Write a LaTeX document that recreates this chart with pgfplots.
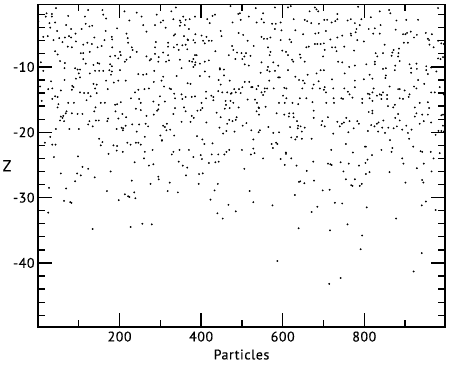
\documentclass[border=0pt]{standalone}
\usepackage{fontspec}
\setmainfont{PT Sans}[LetterSpace=4,FakeBold=0.25]
\usepackage{pgfplots}
\pgfplotsset{compat=1.18}
\begin{document}
\begin{tikzpicture}
\path[use as bounding box] (-38bp,-38bp) rectangle (412bp,327bp);
\begin{axis}[
    scale only axis,
    width=407bp,
    height=322.5bp,
    xmin=0, xmax=998,
    ymin=-49.8, ymax=-0.45,
    xtick={200,400,600,800},
    xticklabels={200,400,600,800},
    ytick={-40,-30,-20,-10},
    yticklabels={-40,-30,-20,-10},
    minor xtick={100,300,500,700,900},
    minor ytick={-48,-46,-44,-42,-38,-36,-34,-32,-28,-26,-24,-22,-18,-16,-14,-12,-8,-6,-4,-2},
    tick align=inside,
    major tick length=14bp,
    minor tick length=7bp,
    every tick/.style={black,line width=1.3bp},
    axis line style={line width=1.6bp},
    tick label style={font=\fontsize{14}{14}\selectfont},
    xticklabel style={yshift=-1bp},
    yticklabel style={xshift=0bp},
    xlabel={Particles},
    ylabel={Z},
    xlabel style={font=\fontsize{14}{14}\selectfont,at={(axis description cs:0.5,0)},anchor=north,yshift=-19bp},
    ylabel style={font=\fontsize{16}{16}\selectfont,at={(axis description cs:0,0.5)},rotate=-90,anchor=center,xshift=-31bp},
]
\addplot[only marks,mark=*,mark size=0.7bp,black] coordinates {
(44,-1.0)(21,-1.8)(34,-1.9)(19,-2.3)(34,-2.3)(74,-2.2)(115,-2.3)(123,-1.3)(158,-1.3)(160,-2.0)(167,-2.6)(212,-1.5)(242,-1.7)(254,-2.3)(258,-3.6)(266,-4.6)
(1,-3.0)(28,-3.3)(42,-3.2)(30,-4.0)(69,-3.6)(81,-4.2)(117,-3.4)(126,-3.8)(133,-3.7)(107,-4.2)(194,-4.1)(224,-2.9)(47,-4.5)(166,-4.5)(92,-4.9)
(13,-5.4)(24,-5.3)(38,-5.9)(52,-5.6)(66,-5.5)(76,-5.3)(81,-5.5)(60,-6.2)(93,-6.1)(138,-5.5)(181,-5.4)(182,-5.8)(217,-4.9)(220,-5.6)(221,-6.3)(163,-5.9)(121,-6.3)(111,-6.6)(132,-6.5)
(73,-6.9)(83,-7.0)(146,-7.0)(156,-6.8)(182,-7.0)(230,-7.0)(42,-7.6)(48,-8.1)(105,-7.9)(111,-7.9)(127,-7.7)(232,-7.4)(242,-7.7)(266,-8.4)(201,-7.7)(177,-8.4)(189,-8.3)(203,-8.2)(226,-8.5)(217,-8.9)(213,-9.2)
(54,-9.1)(66,-9.4)(7,-9.3)(111,-8.8)(117,-9.5)(146,-9.4)(150,-9.5)(136,-9.7)(177,-9.6)(181,-9.9)(197,-8.7)
(65,-10.2)(91,-10.2)(97,-10.4)(103,-10.4)(13,-10.6)(100,-11.0)(127,-11.0)(140,-10.6)(150,-10.6)(160,-10.6)(175,-10.5)(181,-10.7)(201,-10.5)(246,-11.1)(258,-11.2)(266,-11.1)
(93,-11.8)(103,-11.6)(65,-12.0)(167,-12.1)(179,-11.2)(186,-12.4)(197,-12.1)(215,-12.1)(32,-12.2)(136,-12.6)(144,-12.7)(84,-12.9)(87,-13.1)(5,-13.0)(25,-13.4)(35,-13.3)(83,-13.5)(56,-13.6)
(103,-13.9)(113,-14.0)(123,-14.0)(140,-13.3)(144,-14.0)(171,-13.4)(246,-13.5)(238,-13.9)(261,-13.4)(272,-13.3)(42,-14.5)(48,-14.6)(35,-14.9)(9,-15.2)(129,-14.5)(119,-15.1)(228,-14.8)(248,-14.9)(252,-15.5)
(50,-15.7)(48,-16.2)(74,-15.5)(88,-15.5)(154,-15.5)(164,-15.5)(189,-15.8)(194,-15.7)(203,-15.4)(141,-16.2)(138,-16.8)(240,-16.4)(252,-16.6)(70,-16.8)(68,-17.1)(62,-17.5)(56,-17.6)(60,-17.8)(83,-17.1)(97,-17.2)(109,-17.2)(190,-16.8)(207,-17.2)(216,-17.7)(172,-17.9)(197,-17.9)(266,-17.5)
(327,-1.5)(338,-0.9)(291,-2.0)(385,-2.3)(356,-2.3)(332,-2.7)(348,-2.9)(372,-2.7)(362,-2.8)(307,-2.9)(301,-3.2)(287,-3.6)(350,-3.2)(360,-3.6)(348,-3.7)(313,-4.0)(370,-4.2)(415,-2.7)(421,-3.3)(434,-2.0)(428,-2.2)
(472,-0.7)(491,-1.9)(495,-1.8)(497,-2.8)(477,-3.2)(517,-2.3)(552,-1.8)(548,-2.7)(536,-3.2)(554,-3.2)(574,-3.4)(583,-3.4)(595,-3.2)(581,-4.2)(597,-4.4)(627,-2.7)(631,-4.4)(581,-0.9)(613,-0.9)(620,-0.7)(534,-1.0)
(448,-4.5)(450,-5.3)(492,-4.8)(503,-5.1)(386,-5.0)(336,-5.0)(333,-5.2)(358,-5.3)(401,-5.2)(413,-5.4)(368,-5.9)(381,-5.9)(385,-6.3)(367,-5.8)(405,-6.0)(419,-6.0)(426,-6.0)(289,-6.2)(319,-6.3)(341,-6.6)(354,-6.7)(287,-7.0)(319,-6.9)(362,-6.6)(333,-7.0)(345,-7.4)(366,-7.3)(409,-6.4)(435,-7.6)
(476,-6.8)(479,-7.4)(514,-6.0)(529,-6.8)(548,-5.4)(554,-5.7)(562,-5.7)(570,-5.5)(595,-5.9)(617,-5.8)(621,-6.2)(564,-7.0)(599,-7.5)(608,-7.7)(570,-7.7)(568,-8.2)(613,-8.2)(623,-8.9)(626,-9.2)
(307,-7.8)(287,-8.0)(296,-8.5)(319,-8.2)(277,-8.8)(274,-9.0)(295,-9.2)(314,-9.2)(321,-9.0)(385,-8.2)(389,-8.2)(381,-8.8)(348,-8.9)(371,-9.1)(378,-9.2)(386,-9.3)(381,-10.0)(397,-9.5)(409,-9.2)(419,-9.0)(385,-9.7)(446,-10.2)(446,-10.4)
(468,-8.2)(488,-7.8)(499,-7.9)(510,-7.9)(506,-8.4)(484,-8.8)(501,-8.8)(521,-8.3)(507,-9.6)(517,-9.8)(548,-9.3)(577,-9.3)(564,-10.0)(589,-9.8)(562,-10.5)(568,-10.7)(581,-10.6)(613,-10.5)(546,-10.9)
(352,-10.2)(285,-10.6)(409,-10.7)(456,-10.4)(420,-11.5)(397,-11.4)(340,-11.4)(307,-11.5)(303,-12.1)(284,-12.3)(367,-12.5)(374,-12.6)(456,-11.3)(470,-12.1)(443,-12.0)(448,-12.7)(309,-13.0)(323,-13.3)(326,-13.4)
(442,-13.7)(412,-13.8)(452,-13.9)(464,-13.9)(473,-14.1)(481,-13.4)(485,-13.9)(493,-13.4)(497,-14.0)(501,-13.1)(507,-12.3)(518,-12.3)(523,-13.1)(536,-13.4)(540,-12.9)(526,-13.1)(556,-13.3)(562,-13.3)(567,-12.1)(548,-13.9)(556,-13.8)(552,-14.3)
(589,-11.6)(593,-11.6)(631,-11.5)(640,-12.0)(578,-13.3)(604,-13.2)(609,-13.3)(601,-14.4)(609,-14.8)(334,-14.1)(336,-14.8)(352,-14.2)(362,-14.6)(377,-14.6)(354,-14.9)(385,-14.5)(425,-14.4)(430,-14.6)(430,-15.1)(412,-14.8)
(299,-14.5)(311,-15.3)(283,-15.3)(296,-15.8)(295,-16.5)(292,-16.7)(284,-17.3)(336,-16.3)(358,-16.2)(362,-16.8)(403,-16.3)(401,-15.5)(391,-16.7)(399,-16.6)(332,-17.2)(377,-17.5)(382,-17.8)(438,-17.0)(448,-17.7)
(460,-15.2)(472,-15.2)(461,-15.8)(470,-16.3)(458,-16.4)(479,-15.5)(475,-14.0)(492,-16.2)(514,-15.0)(532,-15.0)(537,-15.5)(541,-16.2)(542,-16.3)(536,-16.8)(558,-16.1)(542,-17.3)(487,-17.7)(585,-17.1)(604,-17.3)(591,-15.5)(605,-15.5)(624,-15.5)(638,-15.7)(616,-17.1)(615,-17.6)(626,-17.1)(627,-17.7)
(679,-0.9)(683,-1.2)(666,-1.5)(687,-1.5)(734,-1.9)(785,-0.8)(838,-1.5)(861,-1.3)(864,-1.8)(981,-1.0)(816,-2.4)(793,-2.7)(654,-2.8)(660,-3.0)(670,-3.3)(689,-3.4)(702,-2.8)(709,-2.8)(720,-3.2)(729,-3.0)(734,-2.7)(759,-2.9)(767,-2.7)(777,-3.3)(789,-3.6)(840,-3.6)(826,-4.1)(811,-4.2)(781,-4.2)(779,-4.7)(822,-4.9)(838,-4.9)(879,-2.9)(903,-2.8)(932,-2.8)(877,-4.3)
(650,-5.0)(680,-4.9)(688,-4.8)(706,-4.5)(767,-4.9)(768,-5.2)(746,-5.2)(734,-5.5)(717,-5.8)(914,-4.6)(905,-4.8)(895,-5.0)(901,-5.0)(951,-4.8)(966,-5.0)(922,-5.5)(929,-5.1)(956,-5.7)(959,-5.9)(783,-5.9)(799,-6.1)(981,-6.0)(989,-6.4)(995,-6.5)
(658,-7.0)(664,-6.9)(679,-6.5)(685,-6.5)(693,-6.5)(701,-6.4)(642,-8.1)(644,-8.6)(654,-9.2)(703,-7.4)(729,-7.0)(721,-7.0)(732,-7.6)(751,-6.9)(775,-7.5)(850,-6.6)(897,-6.3)(907,-6.3)(960,-6.6)(970,-7.0)(872,-7.4)(869,-7.8)(885,-7.2)(884,-7.9)(883,-8.4)(828,-7.9)(832,-8.4)(846,-7.9)(981,-8.7)(987,-8.8)(993,-8.5)
(699,-8.4)(736,-9.2)(746,-9.3)(763,-10.0)(777,-9.8)(826,-9.2)(826,-9.6)(805,-9.6)(887,-9.1)(876,-9.8)(911,-9.6)(928,-9.5)(915,-10.2)(929,-10.3)(952,-9.9)(952,-10.5)(964,-10.1)(867,-8.3)(693,-10.5)(701,-10.5)(661,-11.2)(683,-11.0)(752,-11.0)(721,-11.9)(777,-12.1)(799,-11.9)(813,-11.2)(820,-11.8)(846,-10.3)(853,-10.2)(853,-11.3)(852,-11.7)(875,-10.5)(915,-10.9)(956,-11.1)(977,-10.7)
(650,-12.1)(654,-12.5)(648,-13.3)(676,-12.7)(688,-12.2)(673,-13.3)(691,-13.3)(703,-13.1)(701,-13.5)(706,-13.9)(724,-13.3)(751,-13.3)(760,-13.8)(764,-14.2)(777,-13.1)(823,-13.3)(820,-13.9)(809,-14.1)(813,-14.2)(838,-14.2)(846,-13.9)(831,-14.4)(842,-14.3)(856,-14.3)(862,-13.0)(883,-13.4)(887,-13.4)(899,-13.6)(911,-14.2)(909,-14.6)(895,-14.9)(887,-14.8)(922,-13.0)(928,-13.3)(932,-12.0)(947,-12.6)(964,-13.9)(973,-13.9)(985,-13.1)(995,-14.2)
(642,-14.8)(658,-14.8)(673,-15.4)(707,-15.5)(725,-14.8)(726,-15.5)(744,-14.8)(748,-14.9)(771,-14.7)(795,-14.9)(795,-15.5)(813,-14.8)(820,-15.2)(842,-14.9)(856,-14.9)(858,-16.0)(871,-16.2)(875,-15.8)(924,-16.2)(936,-15.5)(956,-15.4)(959,-16.3)(676,-16.7)(676,-17.8)(711,-17.7)(756,-17.8)(811,-16.9)(820,-16.7)(820,-17.1)(883,-17.2)(876,-17.8)(928,-17.1)(924,-17.6)(942,-17.3)(956,-17.3)(989,-17.4)(993,-17.3)
(54,-18.2)(64,-18.3)(44,-19.5)(77,-19.5)(100,-19.5)(30,-20.7)(123,-18.8)(126,-18.3)(134,-19.1)(142,-18.2)(149,-18.2)(170,-18.3)(193,-19.5)(205,-19.3)(209,-19.4)(208,-19.7)(215,-19.0)(231,-18.8)(242,-19.9)(248,-18.8)(264,-18.7)(270,-19.1)(262,-20.7)(150,-21.0)(158,-21.5)(154,-22.0)(17,-21.6)(35,-21.9)(43,-21.9)(185,-22.0)(194,-22.1)(219,-21.6)(227,-21.9)(240,-21.6)(246,-21.6)(252,-21.9)
(193,-22.8)(208,-23.0)(173,-23.3)(262,-23.0)(98,-23.7)(39,-23.8)(260,-24.0)(237,-24.6)(272,-25.1)(109,-25.3)(123,-25.6)(178,-26.0)(56,-26.3)(96,-26.3)(105,-26.6)(139,-26.9)(91,-27.5)(230,-27.4)(27,-28.5)(69,-28.6)(169,-29.0)(213,-29.5)(236,-29.2)(221,-29.8)(224,-29.9)(239,-30.1)(198,-30.4)(64,-30.5)(79,-30.7)(82,-30.8)(25,-32.3)(256,-34.0)(227,-34.5)(134,-34.8)
(316,-18.7)(307,-19.0)(311,-19.2)(315,-19.7)(324,-19.6)(352,-18.4)(374,-18.4)(413,-18.5)(464,-18.7)(469,-18.1)(477,-18.3)(485,-18.1)(511,-18.6)(502,-19.0)(445,-19.3)(462,-19.8)(482,-19.9)(454,-20.2)(523,-19.7)(544,-19.7)(541,-20.0)(565,-19.2)(577,-20.1)(591,-20.0)(618,-19.2)(638,-19.0)(637,-19.4)(635,-18.3)(621,-20.8)(635,-20.7)(631,-21.1)
(300,-20.5)(334,-20.5)(304,-21.2)(304,-21.3)(390,-20.6)(403,-21.1)(408,-21.8)(428,-21.7)(528,-21.1)(573,-21.8)(584,-21.6)(587,-21.8)(576,-22.4)(281,-22.7)(332,-23.0)(328,-23.4)(347,-22.7)(370,-22.7)(399,-23.5)(381,-23.8)(402,-24.1)(426,-23.4)(442,-23.4)(457,-23.4)(462,-23.0)(469,-22.7)(500,-22.7)(528,-22.5)(522,-23.4)(531,-23.2)(552,-24.0)(608,-23.1)(608,-23.3)(595,-24.1)(621,-24.0)
(345,-24.5)(419,-24.7)(435,-24.6)(443,-24.5)(283,-24.9)(355,-25.1)(366,-25.4)(605,-25.0)(634,-25.1)(506,-25.6)(395,-26.4)(404,-26.3)(363,-26.6)(295,-26.8)(296,-27.2)(323,-27.7)(276,-27.9)(394,-27.9)(441,-27.9)(640,-27.6)(318,-29.0)(343,-29.2)(433,-28.9)(519,-29.0)(630,-29.6)(423,-30.3)(467,-31.1)(528,-30.7)(485,-32.1)(440,-32.4)(575,-31.2)(453,-33.2)(279,-34.1)(639,-34.7)
(697,-18.3)(654,-19.3)(644,-19.1)(695,-18.9)(703,-19.1)(647,-19.9)(734,-18.4)(740,-19.1)(745,-18.7)(750,-18.5)(764,-18.3)(783,-18.3)(787,-18.7)(774,-19.4)(761,-20.0)(724,-20.2)(817,-18.9)(825,-19.1)(831,-18.7)(835,-18.5)(847,-18.2)(809,-19.8)(834,-19.9)(844,-19.3)(851,-20.1)(859,-19.3)(872,-19.4)(880,-19.1)(887,-18.2)(903,-19.0)(893,-19.6)(916,-19.6)(907,-20.1)(936,-18.7)(946,-18.3)(964,-18.5)(993,-19.0)(982,-19.8)(989,-19.8)(995,-19.9)(975,-20.4)
(647,-21.0)(671,-21.0)(755,-21.8)(802,-22.2)(804,-22.2)(863,-21.2)(910,-21.0)(842,-22.7)(869,-22.4)(867,-23.0)(920,-22.2)(719,-22.7)(772,-23.1)(819,-23.5)(938,-22.9)(942,-23.0)(963,-23.0)(985,-23.2)(893,-24.0)(896,-24.8)(808,-24.2)(803,-24.7)(970,-24.0)
(675,-24.5)(711,-24.8)(717,-24.9)(720,-25.0)(742,-24.6)(762,-24.8)(787,-25.1)(946,-24.8)(929,-25.5)(749,-26.0)(659,-25.9)(804,-26.4)(813,-26.1)(862,-26.1)(965,-26.0)(677,-27.4)(643,-27.5)(653,-27.8)(755,-27.2)(777,-27.2)(794,-27.9)(768,-28.1)(771,-28.2)(789,-28.2)(901,-27.7)(942,-27.3)(945,-27.7)
(698,-28.9)(715,-28.8)(951,-30.6)(941,-31.2)(728,-30.8)(746,-30.9)(685,-31.4)(671,-32.2)(806,-31.5)(975,-31.9)(878,-33.2)(759,-34.1)(716,-35.0)(795,-35.8)
(791,-37.9)(587,-39.7)(941,-38.5)(921,-41.3)(742,-42.3)(714,-43.2)
};
\end{axis}
\end{tikzpicture}
\end{document}
